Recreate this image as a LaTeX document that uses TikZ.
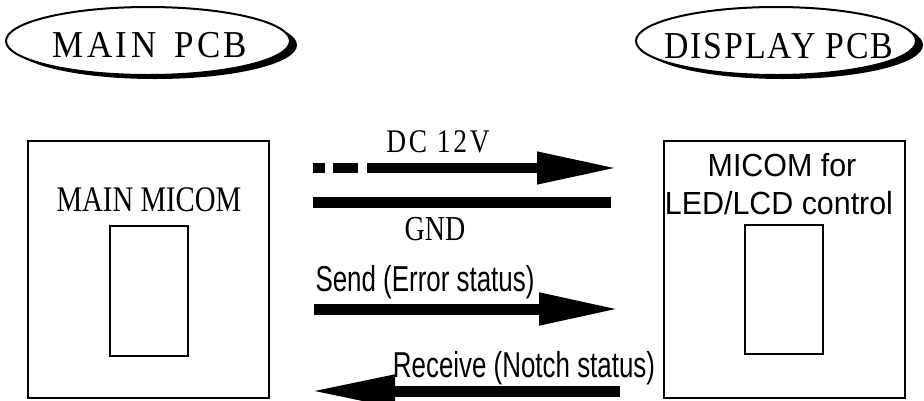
\documentclass[tikz,border=0pt]{standalone}
\usepackage{fontspec}
\usetikzlibrary{arrows.meta,shapes.geometric,shadows}
\newfontfamily\pcbfontA[FakeStretch=0.92,LetterSpace=9]{Liberation Serif}
\newfontfamily\pcbfontB[FakeStretch=0.89,LetterSpace=5]{Liberation Serif}
\newfontfamily\dcfont[FakeStretch=0.83,LetterSpace=8.5]{Liberation Serif}
\newfontfamily\serifnarrow[FakeStretch=0.8]{Liberation Serif}
\newfontfamily\sansnarrow[FakeStretch=0.72]{Liberation Sans}
\newfontfamily\sansbox[FakeStretch=0.95]{Liberation Sans}
\tikzset{
  pcb/.style={ellipse, draw=black, line width=2pt, fill=white, inner sep=0pt,
    drop shadow={shadow xshift=7pt, shadow yshift=-4pt, fill=black, opacity=1}},
  board/.style={rectangle, draw=black, line width=2pt, minimum width=241pt, minimum height=257pt, inner sep=0pt},
  chip/.style={rectangle, draw=black, line width=2.6pt, minimum width=78pt, minimum height=130pt, inner sep=0pt},
  lbl/.style={inner sep=0pt, anchor=base},
  bus/.style={line width=11pt, -{Triangle[length=81pt,width=30pt]}},
  plainbus/.style={line width=11.5pt},
}
\begin{document}
\begin{tikzpicture}[x=1pt,y=-1pt]
\useasboundingbox[fill=white] (0,0) rectangle (924,400);
% PCB labels
\node[pcb, minimum width=284pt, minimum height=68pt] (mainpcb) at (148,41) {};
\node[pcb, minimum width=280pt, minimum height=68pt] (disppcb) at (776,41) {};
\node[lbl] (mainpcbtxt) at (150,57) {\fontsize{38pt}{40pt}\pcbfontA MAIN\hspace*{18pt}PCB};
\node[lbl] (disppcbtxt) at (779,58) {\fontsize{38pt}{40pt}\pcbfontB DISPLAY PCB};
% boards
\node[board] (mainboard) at (148.5,269.5) {};
\node[board] (dispboard) at (784.5,269.5) {};
\node[chip] (mainchip) at (149,291) {};
\node[chip, minimum height=129pt] (dispchip) at (784,289.5) {};
\node[lbl] (mainmicom) at (149,211) {\fontsize{36pt}{38pt}\serifnarrow MAIN MICOM};
\node[lbl] (micomfor) at (782,176) {\fontsize{32pt}{34pt}\sansbox MICOM for};
\node[lbl] (ledlcd) at (779,214) {\fontsize{32pt}{34pt}\sansbox LED/LCD control};
% connectors
\coordinate (dcA) at (313,168);
\coordinate (dcB) at (618,168);
\coordinate (gndA) at (313,202.5);
\coordinate (gndB) at (611,202.5);
\coordinate (sendA) at (314,309);
\coordinate (sendB) at (620,309);
\coordinate (recvA) at (620,391);
\coordinate (recvB) at (310,391);
\draw[bus, line width=10.5pt, dash pattern=on 12pt off 8pt on 25pt off 9pt on 400pt] (dcA) -- (dcB);
\draw[plainbus] (gndA) -- (gndB);
\draw[bus] (sendA) -- (sendB);
\draw[bus, -{Triangle[length=85pt,width=30pt]}] (recvA) -- (recvB);
\node[lbl] (dctxt) at (438,152) {\fontsize{33pt}{35pt}\dcfont DC 12V};
\node[lbl] (gndtxt) at (435,240) {\fontsize{35pt}{37pt}\serifnarrow GND};
\node[lbl] (sendtxt) at (425,291) {\fontsize{36pt}{38pt}\sansnarrow Send (Error status)};
\node[lbl] (recvtxt) at (524,377) {\fontsize{36pt}{38pt}\sansnarrow Receive (Notch status)};
\end{tikzpicture}
\end{document}
